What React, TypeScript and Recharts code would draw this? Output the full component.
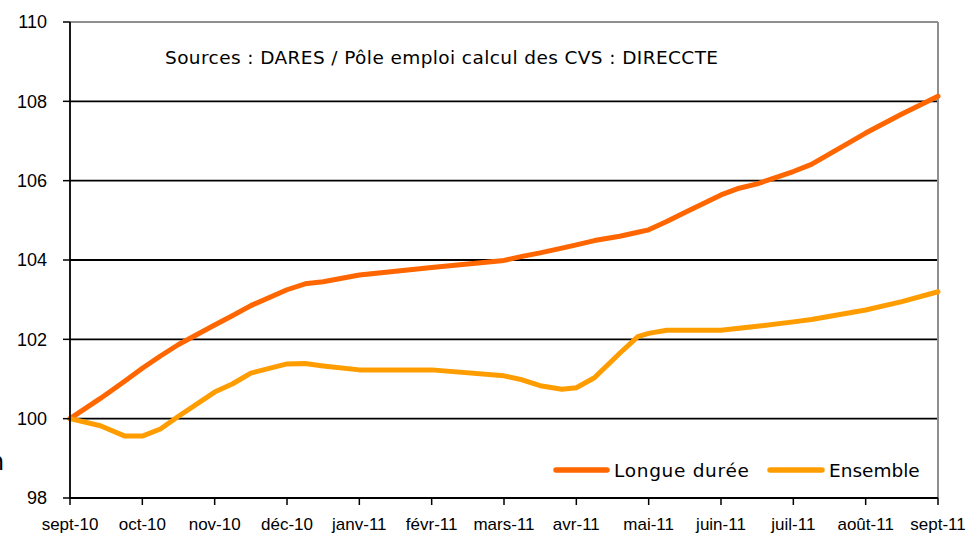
import React from 'react';
import { LineChart, Line, XAxis, YAxis, CartesianGrid, ReferenceLine } from 'recharts';

const monthLabels = ['sept-10', 'oct-10', 'nov-10', 'déc-10', 'janv-11', 'févr-11', 'mars-11', 'avr-11', 'mai-11', 'juin-11', 'juil-11', 'août-11', 'sept-11'];
const monthTicks = [0, 1, 2, 3, 4, 5, 6, 7, 8, 9, 10, 11, 12];
const yTicks = [98, 100, 102, 104, 106, 108, 110];
const gridValues = [100, 102, 104, 106, 108];

// position along the time axis, in months since sept-10
const positions = [0, 0.42, 0.76, 1.0, 1.25, 1.5, 2.0, 2.25, 2.5, 3.0, 3.25, 3.5, 4.0, 5.0, 6.0, 6.25, 6.5, 6.8, 7.0, 7.25, 7.6, 7.85, 8.0, 8.25, 8.5, 9.0, 9.25, 9.5, 10.0, 10.25, 11.0, 11.5, 12.0];
const longueDuree = [100, 100.51, 100.95, 101.27, 101.58, 101.87, 102.36, 102.6, 102.85, 103.25, 103.4, 103.45, 103.62, 103.81, 103.99, 104.09, 104.18, 104.3, 104.38, 104.49, 104.6, 104.7, 104.76, 104.97, 105.2, 105.64, 105.81, 105.92, 106.23, 106.41, 107.2, 107.68, 108.13];
const ensemble = [100, 99.82, 99.56, 99.56, 99.74, 100.06, 100.67, 100.88, 101.15, 101.38, 101.39, 101.33, 101.23, 101.23, 101.08, 100.98, 100.83, 100.74, 100.78, 101.03, 101.65, 102.07, 102.15, 102.23, 102.23, 102.23, 102.28, 102.33, 102.44, 102.5, 102.74, 102.95, 103.2];

const seriesNames = ['Longue durée', 'Ensemble'];
const seriesColors = ['#FF6600', '#FF9D00'];
const sourceText = 'Sources : DARES / Pôle emploi calcul des CVS : DIRECCTE';

const data = positions.map((m, i) => ({ m, longue: longueDuree[i], ensemble: ensemble[i] }));

export default function App() {
  return (
    <div style={{ position: 'absolute', left: 0, top: 0, width: 971, height: 536, background: '#fff' }}>
      <LineChart width={971} height={536} data={data} margin={{ top: 22, right: 33, bottom: 0, left: 0 }}>
        <CartesianGrid vertical={false} horizontalValues={gridValues} stroke="#000" strokeWidth={1.8} />
        <ReferenceLine y={110} stroke="#8f8f8f" strokeWidth={2} />
        <ReferenceLine x={12} stroke="#8f8f8f" strokeWidth={2} />
        <XAxis
          type="number"
          dataKey="m"
          domain={[0, 12]}
          ticks={monthTicks}
          interval={0}
          height={38}
          tickSize={7}
          tickMargin={13}
          tickFormatter={(v: number) => monthLabels[v]}
          axisLine={{ stroke: '#000', strokeWidth: 1.8 }}
          tickLine={{ stroke: '#000', strokeWidth: 1.5 }}
          tick={{ fill: '#000', fontSize: 17, fontFamily: 'Liberation Sans, Arial, sans-serif' }}
        />
        <YAxis
          width={70}
          domain={[98, 110]}
          ticks={yTicks}
          interval={0}
          tickSize={7}
          tickMargin={16}
          axisLine={{ stroke: '#000', strokeWidth: 1.8 }}
          tickLine={{ stroke: '#000', strokeWidth: 1.5 }}
          tick={{ fill: '#000', fontSize: 18, fontFamily: 'Liberation Sans, Arial, sans-serif' }}
        />
        <Line type="linear" dataKey="longue" name={seriesNames[0]} stroke={seriesColors[0]} strokeWidth={5} dot={false} strokeLinejoin="round" strokeLinecap="round" isAnimationActive={false} />
        <Line type="linear" dataKey="ensemble" name={seriesNames[1]} stroke={seriesColors[1]} strokeWidth={5} dot={false} strokeLinejoin="round" strokeLinecap="round" isAnimationActive={false} />
      </LineChart>
      <svg width={971} height={536} style={{ position: 'absolute', left: 0, top: 0, pointerEvents: 'none' }}>
        <text x={165} y={64} fontSize={18.5} letterSpacing={0.4} fontFamily="DejaVu Sans, Verdana, sans-serif" fill="#000">{sourceText}</text>
        <text x={-11} y={470} fontSize={24} fontFamily="DejaVu Sans, sans-serif" fill="#000">n</text>
        <line x1={556} x2={607} y1={470} y2={470} stroke={seriesColors[0]} strokeWidth={5.5} strokeLinecap="round" />
        <text x={614} y={477} fontSize={18.5} letterSpacing={0.7} fontFamily="DejaVu Sans, Verdana, sans-serif" fill="#000">{seriesNames[0]}</text>
        <line x1={770} x2={822} y1={470} y2={470} stroke={seriesColors[1]} strokeWidth={5.5} strokeLinecap="round" />
        <text x={829} y={477} fontSize={18.5} fontFamily="DejaVu Sans, Verdana, sans-serif" fill="#000">{seriesNames[1]}</text>
      </svg>
    </div>
  );
}
